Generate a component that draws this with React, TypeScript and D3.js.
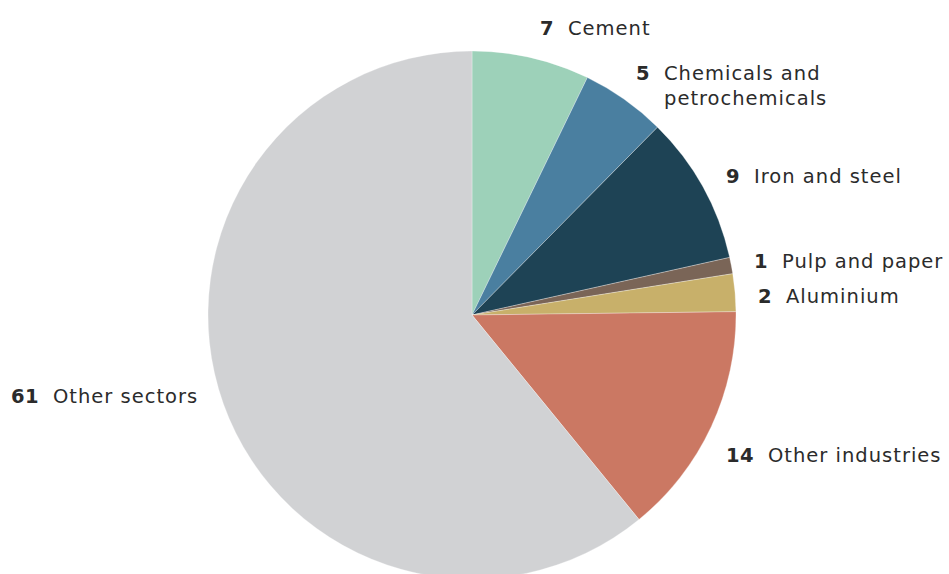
import React from "react";
import * as d3 from "d3";

const categories = ["Cement", "Chemicals and petrochemicals", "Iron and steel", "Pulp and paper", "Aluminium", "Other industries", "Other sectors"];
const shares = [7.2, 5.2, 9.1, 1.0, 2.3, 14.3, 60.9];
const labelValues = ["7", "5", "9", "1", "2", "14", "61"];
const labelLines = [["Cement"], ["Chemicals and", "petrochemicals"], ["Iron and steel"], ["Pulp and paper"], ["Aluminium"], ["Other industries"], ["Other sectors"]];
const colors = ["#9dd1b9", "#4a7fa0", "#1e4355", "#7a6557", "#c8b06a", "#cb7863", "#d1d2d4"];

// label anchor positions (layout, not data)
const labelPos: [number, number][] = [
  [540, 35], [636, 80], [726, 183], [754, 268], [758, 303], [726, 462], [11, 403],
];

const W = 949, H = 574;
const cx = 472, cy = 315, R = 264;

export default function App() {
  const pie = d3.pie<number>().sort(null).value((d) => d);
  const arcs = pie(shares);
  const arc = d3.arc<d3.PieArcDatum<number>>().innerRadius(0).outerRadius(R);
  return (
    <svg width={W} height={H} style={{ position: "absolute", left: 0, top: 0, background: "#fff" }}
      fontFamily="'DejaVu Sans', sans-serif">
      <g transform={`translate(${cx},${cy})`}>
        {arcs.map((a, i) => (
          <path key={categories[i]} d={arc(a) || ""} fill={colors[i]} stroke="#fff" strokeWidth={0.3} />
        ))}
      </g>
      {categories.map((c, i) => {
        const [x, y] = labelPos[i];
        const off = 14 * labelValues[i].length + 14;
        return (
          <g key={c} fill="#2b2b2b" fontSize={19.5}>
            <text x={x} y={y} fontWeight="bold" letterSpacing={0.5}>{labelValues[i]}</text>
            {labelLines[i].map((ln, j) => (
              <text key={j} x={x + off} y={y + j * 25} letterSpacing={1}>{ln}</text>
            ))}
          </g>
        );
      })}
    </svg>
  );
}
